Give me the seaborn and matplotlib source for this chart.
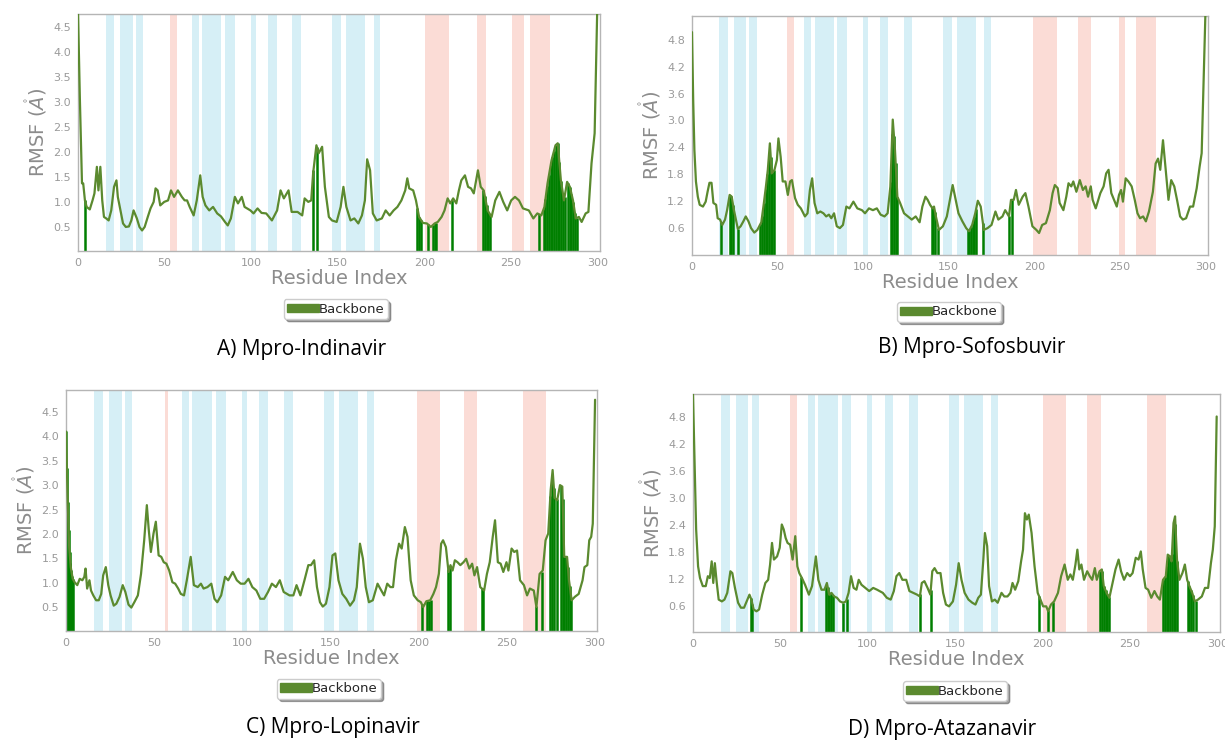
import numpy as np
import matplotlib
matplotlib.use("Agg")
import matplotlib.pyplot as plt
import seaborn as sns

sns.set_style("white")
plt.rcParams['font.family'] = ['DejaVu Sans']

# ---------------- data ----------------
A_x = [0,1.1,2.3,3,4,5,6.8,8.4,9.5,10.9,
       11.8,12.9,14,15,16.3,17.7,19.2,20.8,22.2,23,
       24.5,26,27.6,29.4,30.8,32.1,34,35.5,37,38.5,
       40.3,41.9,43.7,44.8,46,47.5,49.8,52,53.7,55.5,
       57.7,60,61.6,63,64.5,66.8,68.6,70.6,72,73.6,
       75.8,78,80.4,82.6,84.9,86.5,88.3,90.6,92.4,94.6,
       96.2,99.6,101.4,103.7,106,108.7,112,115,117,118.9,
       121.6,123.4,126.8,129.5,130.9,133,134.7,135.8,137.7,139,
       141,142.6,144.9,146.7,149.4,151.7,153.3,155,157.4,159.6,
       161.9,164,165.7,167,168.7,170.3,172.5,175.5,177.7,180,
       182.3,184.5,186.8,189,190.2,191.3,193.6,195.2,197,199.2,
       201.5,203.8,206,207.8,210,211.7,213.5,215,216.7,218.5,
       220,221.4,223.5,225.3,227,228.6,231,232.6,234.3,236.6,
       238.9,241,243.4,245.6,247.9,250.2,252.4,254.7,257,260.4,
       263,265.3,267.6,269.4,271.2,273.5,275.8,277.1,278.9,280.7,
       282.5,284.1,285.9,287.5,289.3,290.9,293.2,294.8,296.6,298.4,
       300]
A_y = [4.8,3.03,1.37,1.37,1.03,0.9,0.85,1.03,1.17,1.7,
       1.23,1.7,1.03,0.7,0.67,0.63,0.83,1.3,1.43,1.1,
       0.83,0.57,0.5,0.51,0.63,0.83,0.67,0.5,0.43,0.5,
       0.7,0.87,1.0,1.27,1.23,0.93,1.0,1.03,1.23,1.1,
       1.23,1.1,1.03,1.03,0.9,0.73,1.03,1.53,1.1,0.93,
       0.83,0.9,0.77,0.71,0.6,0.53,0.67,1.1,0.97,1.1,
       0.9,0.83,0.77,0.87,0.78,0.77,0.63,0.83,1.23,1.07,
       1.23,0.8,0.8,0.73,1.07,1.0,1.03,1.57,2.13,1.97,
       2.1,1.3,0.7,0.63,0.6,0.9,1.3,0.9,0.63,0.67,
       0.57,0.73,1.03,1.85,1.63,0.77,0.63,0.67,0.83,0.73,
       0.83,0.9,1.03,1.23,1.47,1.27,1.23,1.03,0.7,0.58,
       0.57,0.5,0.57,0.6,0.7,0.83,1.07,0.97,1.07,0.97,
       1.23,1.43,1.53,1.3,1.27,1.17,1.63,1.3,1.23,0.83,
       0.7,1.03,1.2,1.0,0.83,1.03,1.1,1.03,0.87,0.83,
       0.67,0.77,0.73,0.9,1.37,1.83,2.13,2.17,1.43,1.03,
       1.4,1.3,1.03,0.67,0.7,0.6,0.77,0.8,1.77,2.37,
       5.0]

B_x = [0,0.7,1.4,2.3,3.4,4.5,6.4,8,9.1,10.2,
       11.4,12.5,14.1,15,16.4,17.7,19.3,20.5,22,23.2,
       24.3,25.5,26.8,28.4,30,31.4,33,34.5,36.4,38.2,
       39.3,40.5,42,43.2,44.3,45.5,46.6,48.2,49.6,50.5,
       51.8,53,54.6,56,57.3,58.4,60.2,61.8,63.6,66,
       67.5,68.9,70.2,71.6,73.2,75,76.8,78.4,80,81.4,
       83,84.6,86.4,88.2,90.2,92,94.3,96.6,99.3,101.1,
       103.4,105.7,108,110.2,112.5,114.3,115.9,117.3,118.6,120,
       121.6,123.9,126.2,128.4,130.7,133,134.6,136.4,137.7,139.1,
       140.5,141.4,142.5,144.3,146.6,148.9,150.7,152.3,153.7,155.7,
       158,160.2,161.8,163.7,165.5,167,168.7,170.5,172.7,175,
       177.3,179,181.4,183,185.2,186.4,188,189.3,190.9,193.2,
       194.8,196.6,198.9,201.2,202.8,204.6,206.8,209.1,210.7,212,
       213.7,214.8,217,218.7,220,221.6,222.8,224.6,226.6,228.4,
       230,231.4,233,234.1,235.9,238.6,240.5,242,243.4,245,
       246.6,248.2,249.5,250.7,251.8,253.4,255,256.9,258.7,260.3,
       261.8,263.6,265.2,267,269.3,270.9,272.3,273.6,275.2,276.8,
       278.4,280,281.8,283.4,285.2,286.8,288.7,291,292.8,294.9,
       296.6,297.8,300]
B_y = [4.97,3.45,2.34,1.64,1.3,1.12,1.08,1.19,1.41,1.61,
       1.61,1.16,1.12,0.82,0.79,0.67,0.79,1.0,1.34,1.3,
       1.04,0.82,0.58,0.64,0.75,0.86,0.75,0.6,0.5,0.56,
       0.64,0.73,1.16,1.53,1.9,2.49,1.82,1.9,2.12,2.6,
       2.19,1.64,1.64,1.34,1.64,1.67,1.27,1.12,1.04,0.86,
       0.93,1.45,1.71,1.16,0.93,0.97,0.93,0.86,0.9,0.82,
       0.93,0.64,0.6,0.67,1.08,1.04,1.19,1.04,1.0,0.93,
       1.04,1.0,1.04,0.9,0.86,0.93,1.53,3.02,2.34,1.3,
       1.16,0.93,0.86,0.79,0.86,0.73,1.08,1.3,1.23,1.12,
       1.04,1.08,0.86,0.56,0.64,0.86,1.23,1.56,1.3,0.93,
       0.75,0.6,0.53,0.67,0.93,1.21,1.08,0.56,0.6,0.67,
       0.97,0.79,0.86,1.0,0.86,1.23,1.23,1.45,1.12,1.3,
       1.38,1.08,0.64,0.56,0.49,0.67,0.71,1.0,1.38,1.56,
       1.49,1.16,1.0,1.3,1.6,1.53,1.64,1.41,1.67,1.45,
       1.53,1.3,1.53,1.23,1.04,1.38,1.53,1.82,1.9,1.38,
       1.23,1.08,1.34,1.45,1.19,1.71,1.64,1.53,1.23,0.93,
       0.82,0.86,0.75,0.97,1.41,2.04,2.15,1.9,2.56,1.9,
       1.23,1.67,1.53,1.23,0.86,0.79,0.82,1.08,1.08,1.49,
       1.97,2.27,5.4]

C_x = [0,0.9,1.8,2.7,3.8,4.9,6.4,7.8,9.3,10.4,
       11.1,12,13.3,14.2,15.5,17.1,18.6,20,21.1,22.6,
       24,25.3,27.1,28.6,30.4,32.2,33.7,35.5,37.1,38.8,
       40.8,42.6,44.4,45.9,47,48.2,49.7,51,52.6,54.1,
       55.5,57,58.6,60.4,62,63.7,65.2,67,68.6,70.8,
       72.6,74.8,76.6,78.1,80.3,82.5,84.3,85.9,88.1,90.3,
       92.1,94.7,97,99.2,101.4,103.6,105.8,108.1,110.3,112.5,
       114.7,116.9,119.2,121.4,123.6,126.9,129.1,130.9,133.1,135.4,
       137.6,139.1,140.9,142.5,144.2,145.8,147.6,149.6,151.3,152.9,
       154.7,156.9,159.1,161.3,163.5,165.1,166.9,168.6,170.2,172,
       174.2,176.9,178.4,180.6,182.4,184.2,185.7,187.3,189.1,190.6,
       192.4,193.9,195.7,197.5,199.7,201.5,202.8,204.6,206.8,208.6,
       210.1,211.7,213,214.1,215.7,217.2,218.3,219.5,220.8,222.3,
       223.9,225.7,227.2,229,230.6,231.9,233.4,235.2,237.4,239,
       240.6,242.3,243.6,245.2,246.8,248.3,250.1,251.2,253,254.5,
       256.1,257.8,260,261.8,263.4,265.6,267.1,268.9,270.7,272.3,
       273.8,275.2,276.3,277.4,278.9,280.5,281.8,282.9,284.5,285.6,
       287.1,288.9,291.1,293.3,294.4,296,297.1,298.2,299.1,300.4]
C_y = [4.1,2.76,1.73,1.32,1.08,1.01,0.95,1.08,1.05,1.12,
       1.29,0.88,1.05,0.84,0.74,0.64,0.64,0.77,1.15,1.32,
       0.95,0.74,0.53,0.57,0.71,0.95,0.81,0.55,0.49,0.6,
       0.74,1.18,1.87,2.59,2.08,1.63,2.01,2.25,1.56,1.53,
       1.42,1.39,1.25,1.01,0.98,0.88,0.77,0.74,1.05,1.53,
       0.95,0.91,0.98,0.88,0.91,0.98,0.67,0.6,0.74,1.12,
       1.05,1.22,1.05,0.98,0.98,1.08,0.91,0.84,0.67,0.67,
       0.81,0.98,0.91,1.05,0.81,0.74,0.74,0.95,0.74,1.05,
       1.36,1.36,1.46,0.91,0.6,0.51,0.57,0.91,1.56,1.6,
       1.05,0.77,0.67,0.53,0.64,0.91,1.8,1.49,0.91,0.6,
       0.64,0.98,0.88,0.74,0.98,0.91,0.91,1.46,1.8,1.7,
       2.14,1.94,1.05,0.74,0.64,0.6,0.5,0.62,0.64,0.77,
       0.91,1.18,1.8,1.87,1.73,1.22,1.36,1.25,1.46,1.42,
       1.36,1.42,1.49,1.29,1.39,1.15,1.32,0.91,0.84,1.18,
       1.42,1.94,2.28,1.42,1.39,1.22,1.42,1.25,1.7,1.63,
       1.66,1.05,0.95,0.74,0.88,0.84,0.5,1.18,1.25,1.87,
       2.01,2.9,3.31,2.74,2.69,3.0,2.97,1.53,1.53,1.05,
       0.64,0.71,0.77,1.05,1.32,1.36,1.87,1.94,2.21,4.75]

D_x = [0,0.7,1.8,2.9,4,5.6,7.3,8.5,9.6,10.7,
       11.6,12.5,13.6,14.7,16.5,18,19.6,21.4,22.5,24,
       25.8,27.4,29.2,30.7,32.3,33.4,34.7,36.3,37.8,39.6,
       41.4,43,44.1,45.2,46.3,48.1,49.6,50.8,51.9,53,
       54.1,55.6,57,58.5,59.7,60.8,62.3,64.1,66.3,68.1,
       70.3,71.7,73.5,75.2,76.6,77.9,79.2,80.8,82.4,84.1,
       85.9,87.5,89,90.4,91.9,93.5,94.8,96.4,98.6,100.8,
       103.1,105.3,108.6,110.9,113.1,114.9,116.4,118,119.8,122,
       123.8,126,128.2,129.8,130.9,132.4,134.2,135.8,136.9,138.2,
       139.8,141.6,143.1,144.7,146.5,148.7,150.5,152,153.6,155.4,
       157.6,159.8,161.6,163.2,164.7,166.1,167,168.3,169.4,171,
       172.7,174.3,176.5,178.1,179.9,181.6,182.8,184.3,186.1,187.7,
       188.8,189.9,191,192.1,193.7,195.4,197.2,198.8,200.3,202.1,
       203.2,204.8,206.6,208.8,210.6,212.6,214.4,215.9,217.3,218.8,
       219.9,221,222.2,223.7,225.5,227,228.4,229.9,231,232.6,
       233.9,235,236.6,238.2,240,241.7,243.5,244.9,246.6,248.4,
       250,251.5,253.3,254.9,256.2,257.3,258.9,260.4,262.2,264,
       265.6,267.1,268.9,270.5,271.6,272.9,273.8,274.9,275.8,276.9,
       278.3,280,281.4,282.7,284,285.6,287.1,288.9,291.1,292.9,
       294.7,296.3,297.4,298.5,299.6]
D_y = [5.3,4.15,2.3,1.48,1.22,1.04,1.04,1.26,1.22,1.59,
       1.11,1.55,1.11,0.74,0.7,0.74,0.89,1.37,1.33,1.0,
       0.67,0.56,0.56,0.7,0.85,0.74,0.52,0.48,0.52,0.85,
       1.11,1.18,1.52,2.0,1.63,1.7,1.89,2.41,2.3,2.11,
       2.0,1.96,1.63,2.15,1.48,1.33,1.22,1.07,0.85,1.04,
       1.7,1.18,0.96,0.96,1.11,0.85,0.89,0.81,0.78,0.7,
       0.67,0.7,0.89,1.26,1.0,0.96,1.18,1.07,1.0,0.93,
       1.0,0.96,0.89,0.78,0.74,0.93,1.26,1.33,1.18,1.18,
       0.93,0.89,0.85,0.81,1.11,1.15,1.0,0.85,1.37,1.44,
       1.33,1.33,0.89,0.63,0.59,0.7,1.07,1.55,1.18,0.89,
       0.74,0.67,0.63,0.78,0.85,1.63,2.22,1.93,1.04,0.7,
       0.74,0.67,0.89,0.81,0.81,0.89,1.11,0.96,1.15,1.59,
       1.85,2.66,2.52,2.63,2.22,1.48,0.89,0.74,0.59,0.59,
       0.48,0.63,0.7,0.89,1.26,1.52,1.18,1.3,1.18,1.52,
       1.85,1.41,1.52,1.18,1.37,1.26,1.18,1.44,1.18,1.37,
       1.41,1.04,0.89,0.78,1.11,1.41,1.63,1.37,1.18,1.33,
       1.26,1.33,1.67,1.63,1.81,1.41,1.0,0.96,0.78,0.93,
       0.81,0.74,1.18,1.26,1.74,1.7,1.59,2.44,2.59,1.63,
       1.18,1.33,1.52,1.18,1.04,0.89,0.7,0.74,0.81,1.0,
       1.0,1.55,1.85,2.37,4.81]

# secondary structure bands (residue ranges)
strand_bands = [(16, 21), (24.5, 31.7), (33.5, 37.7), (65.7, 69.7), (71.7, 82.8),
                (85, 90.6), (99.7, 102.6), (109.6, 114.7), (123.7, 128.7),
                (146.7, 152), (155, 165.8), (170.7, 174.6)]
A_helix = [(53, 57), (200.5, 214), (230.5, 235.5), (250.5, 257.5), (261, 272.5)]
B_helix = [(55.5, 59.5), (199.5, 213.5), (225.5, 233), (249.5, 253), (259.5, 271)]
C_helix = [(56, 58), (199.5, 212.5), (226, 233.5), (259.5, 272.5)]
D_helix = [(55.5, 59.5), (200, 213.5), (225.5, 233.5), (260, 270.5)]

# ligand-contact residues
A_contacts = [4, 136, 138, 196, 197, 198, 202, 205, 206, 207, 216,
              234, 235, 236, 237, 238, 266] + list(range(269, 282)) + list(range(283, 289))
B_contacts = [17, 22, 23, 24, 27, 40, 41, 42, 43, 44, 45, 46, 47, 48,
              116, 117, 118, 119, 120, 140, 141, 142, 144,
              161, 162, 163, 164, 165, 166, 170, 185, 187]
C_contacts = [0, 0.5, 1, 1.5, 2, 2.5, 3, 3.5, 4, 202, 205, 206, 207, 217, 218, 236, 237, 267, 270,
              275, 276, 277, 279, 281, 282, 283, 284, 285, 286, 287]
D_contacts = [33, 34, 62, 76, 77, 78, 79, 80, 86, 88, 130, 136, 198, 203, 206,
              233, 234, 235, 236, 237, 238] + list(range(269, 278)) + [283, 284, 285, 286, 288]

titles = ["A) Mpro-Indinavir", "B) Mpro-Sofosbuvir", "C) Mpro-Lopinavir", "D) Mpro-Atazanavir"]
A_ticks = [0.5, 1.0, 1.5, 2.0, 2.5, 3.0, 3.5, 4.0, 4.5]
B_ticks = [0.6, 1.2, 1.8, 2.4, 3.0, 3.6, 4.2, 4.8]
x_ticks = [0, 50, 100, 150, 200, 250, 300]

# ---------------- layout ----------------
W, H = 1225, 742
fig = plt.figure(figsize=(W / 100, H / 100), dpi=100)

def frac(l, t, r, b):
    return [l / W, 1 - b / H, (r - l) / W, (b - t) / H]

panels = [
    dict(x=A_x, y=A_y, helix=A_helix, contacts=A_contacts, ylim=(0.02, 4.75), ticks=A_ticks,
         box=frac(78, 14, 600, 251), leg=(0.494, -0.245), title_xy=(302, 350)),
    dict(x=B_x, y=B_y, helix=B_helix, contacts=B_contacts, ylim=(0.0, 5.33), ticks=B_ticks,
         box=frac(692, 16, 1208, 255), leg=(0.498, -0.238), title_xy=(972, 347)),
    dict(x=C_x, y=C_y, helix=C_helix, contacts=C_contacts, ylim=(0.01, 4.95), ticks=A_ticks,
         box=frac(66, 390, 597, 631), leg=(0.495, -0.24), title_xy=(333, 727)),
    dict(x=D_x, y=D_y, helix=D_helix, contacts=D_contacts, ylim=(0.02, 5.31), ticks=B_ticks,
         box=frac(693, 394, 1220, 632), leg=(0.497, -0.248), title_xy=(942, 730)),
]

line_col = "#5b8a2f"
contact_col = "#007f00"
strand_col = "#d6eff6"
helix_col = "#fbdcd6"
gray = "#8c8c8c"

for p, title in zip(panels, titles):
    ax = fig.add_axes(p["box"])
    for a, b in strand_bands:
        ax.axvspan(a, b, color=strand_col, lw=0, zorder=0)
    for a, b in p["helix"]:
        ax.axvspan(a, b, color=helix_col, lw=0, zorder=0)
    hx = np.array(p["contacts"], dtype=float)
    hy = np.interp(hx, p["x"], p["y"])
    ax.vlines(hx, 0, hy, color=contact_col, lw=1.8, zorder=2)
    sns.lineplot(x=p["x"], y=p["y"], ax=ax, color=line_col, lw=1.6, zorder=3,
                 label="Backbone", legend=False)
    ax.set_xlim(0, 301.5)
    ax.set_ylim(*p["ylim"])
    ax.set_xticks(x_ticks)
    ax.set_yticks(p["ticks"])
    ax.set_yticklabels([f"{t:.1f}" for t in p["ticks"]])
    ax.tick_params(axis="both", labelsize=8, colors=gray, length=3, width=0.6,
                   labelcolor="#9a9a9a", pad=2)
    for s in ax.spines.values():
        s.set_color("#b5b5b5")
        s.set_linewidth(1.0)
    ax.set_xlabel("Residue Index", fontsize=14, color=gray, labelpad=1)
    ax.set_ylabel(r"RMSF ($\mathring{A}$)", fontsize=14, color=gray, labelpad=3)
    handle = matplotlib.patches.Patch(color=line_col)
    leg = ax.legend([handle], ["Backbone"], loc="center", bbox_to_anchor=p["leg"],
                    fontsize=9.5, frameon=True, fancybox=True, shadow=True,
                    handlelength=2.4, handleheight=0.6, handletextpad=0.0,
                    borderpad=0.25, borderaxespad=0)
    leg.get_frame().set_edgecolor("#cccccc")
    tx, ty = p["title_xy"]
    fig.text(tx / W, 1 - ty / H, title, ha="center", va="center", fontsize=15,
             family="Open Sans", color="black")

fig.savefig("out.png", dpi=100)
